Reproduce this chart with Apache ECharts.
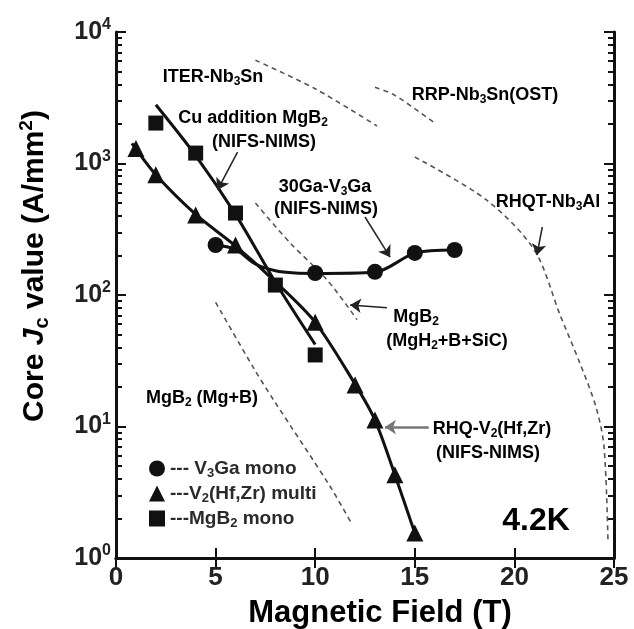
<!DOCTYPE html>
<html>
<head>
<meta charset="utf-8">
<script src="https://cdn.jsdelivr.net/npm/echarts@6/dist/echarts.min.js"></script>
<style>
  html, body { margin: 0; background: #fff; }
  #chart { width: 634px; height: 629px; }
</style>
</head>
<body>
<div id="chart"></div>
<script>
// measured points, [field (T), core Jc (A/mm2)]
const v3gaMono = [[5, 240], [10, 147], [13, 150], [15, 209], [17, 220]]
const v3gaFit = [[5, 240], [6, 222], [7, 172], [8, 153], [9, 147], [10, 146], [13, 149], [15, 208], [17, 220]]
const v2Multi = [[1, 1300], [2, 820], [4, 406], [6, 240], [10, 62], [12, 20.7], [13, 11.2], [14, 4.3], [15, 1.55]]
const v2Fit = [[0.8, 1420], [2, 820], [4, 410], [6, 236], [8, 126], [10, 62], [12, 21], [13, 11.2], [14, 4.3], [15, 1.55]]
const mgb2Mono = [[2, 2030], [4, 1200], [6, 420], [8, 119], [10, 35]]
const mgb2Fit = [[2, 2800], [4, 1150], [6, 410], [8, 125], [10, 42]]

// reference curves (dashed)
const iterNb3Sn = [[7, 6100], [10, 3700], [13.1, 1930]]
const rrpNb3Sn = [[13, 3800], [14, 3300], [16, 2030]]
const rhqtNb3Al = [[15, 1120], [18.6, 528], [21, 220], [22.3, 70], [23.3, 30], [24.1, 14], [24.5, 7], [24.7, 1.3]]
const mgb2SiC = [[7, 500], [8.75, 248], [10.6, 130], [12.1, 65]]
const mgb2MgB = [[5, 88], [6.9, 28], [7.9, 16], [10.75, 3.5], [11.85, 1.8]]

// annotation arrows [from, to]
const arrows = [
  [[6.1, 1220], [5.1, 630]],
  [[12.5, 392], [13.76, 194]],
  [[21.4, 329], [21.13, 201]],
  [[13.6, 80], [11.75, 84]],
  [[15.7, 9.9], [13.5, 9.9]]
]

const yDecades = [0, 1, 2, 3, 4]
const supDigits = ['0', '1', '2', '3', '4']

const FONT = '"Liberation Sans", Arial, sans-serif'
const INK = '#2a2a2a'

// minor tick positions in decade units (2..9 in every decade)
const minorTicks = []
yDecades.slice( 0, -1 ).forEach( d => {
  for ( let k = 2; k < 10; k++ ) minorTicks.push( d + Math.log10( k ) )
} )

const rich = ( size, color ) => ( {
  n : { fontSize : size, fontWeight : 'bold', fontFamily : FONT, color : color || INK },
  i : { fontSize : size, fontWeight : 'bold', fontStyle : 'italic', fontFamily : FONT, color : color || INK },
  s : { fontSize : Math.round( size * 0.68 ), fontWeight : 'bold', fontFamily : FONT, color : color || INK, padding : [Math.round( size * 0.5 ), 0, 0, 0] },
  p : { fontSize : Math.round( size * 0.62 ), fontWeight : 'bold', fontFamily : FONT, color : color || INK, padding : [0, 0, Math.round( size * 0.55 ), 0] }
} )

// text annotations: rich text, centre x, centre y, font size
const notes = [
  ['{n|ITER-Nb}{s|3}{n|Sn}', 213, 77, 18],
  ['{n|Cu addition MgB}{s|2}', 253, 118, 18],
  ['{n|(NIFS-NIMS)}', 264, 142, 18],
  ['{n|RRP-Nb}{s|3}{n|Sn(OST)}', 485, 95, 18],
  ['{n|30Ga-V}{s|3}{n|Ga}', 325, 187, 18],
  ['{n|(NIFS-NIMS)}', 326, 209, 18],
  ['{n|RHQT-Nb}{s|3}{n|Al}', 548, 202, 18],
  ['{n|MgB}{s|2}', 416, 317, 18],
  ['{n|(MgH}{s|2}{n|+B+SiC)}', 447, 341, 18],
  ['{n|MgB}{s|2}{n| (Mg+B)}', 202, 398, 18],
  ['{n|RHQ-V}{s|2}{n|(Hf,Zr)}', 492, 429, 18],
  ['{n|(NIFS-NIMS)}', 488, 453, 18],
  ['{n|4.2K}', 536, 521, 32],
  ['{n|Magnetic Field (T)}', 380, 613, 31]
]

const legendText = {
  'V3Ga mono' : '{n|--- V}{s|3}{n|Ga mono}',
  'V2(Hf,Zr) multi' : '{n|---V}{s|2}{n|(Hf,Zr) multi}',
  'MgB2 mono' : '{n|---MgB}{s|2}{n| mono}'
}

const fitLine = ( name, data ) => ( {
  name, type : 'line', data, smooth : 0.3, symbol : 'none', silent : true,
  lineStyle : { color : '#111', width : 3 }
} )
const marks = ( name, data, symbol, size ) => ( {
  name, type : 'scatter', data, symbol, symbolSize : size, z : 4,
  itemStyle : { color : '#111', opacity : 1 }
} )
const refLine = ( name, data ) => ( {
  name, type : 'line', data, smooth : 0.3, symbol : 'none', silent : true,
  lineStyle : { color : '#555', width : 1.6, type : [5, 4] }
} )

const tickStyle = { color : '#111', width : 2 }

// main log axis (left) and its mirror (right)
const logAxis = ( position, labels ) => ( {
  type : 'log', logBase : 10, min : 1, max : 10000, position,
  axisLine : { show : true, lineStyle : { color : '#111', width : 3 } },
  axisTick : { show : true, inside : true, length : 10, lineStyle : tickStyle },
  axisLabel : labels ? {
    margin : 5,
    formatter : v => '{n|10}{p|' + supDigits[Math.round( Math.log10( v ) )] + '}',
    rich : rich( 25, '#222' )
  } : { show : false },
  splitLine : { show : false }
} )
// decoration-only axis in decade units that carries the minor ticks
const minorAxis = position => ( {
  type : 'value', min : 0, max : 4, position,
  axisLine : { show : false },
  axisTick : { show : true, inside : true, length : 6, customValues : minorTicks, lineStyle : tickStyle },
  axisLabel : { show : false },
  splitLine : { show : false }
} )

const chart = echarts.init( document.getElementById( 'chart' ) )

chart.setOption( {
  animation : false,
  backgroundColor : '#fff',
  textStyle : { fontFamily : FONT },
  grid : { left : 116, right : 20, top : 32, bottom : 71 },
  legend : {
    orient : 'vertical',
    left : 144,
    top : 454,
    itemWidth : 16,
    itemHeight : 16,
    itemGap : 4,
    data : Object.keys( legendText ),
    formatter : name => legendText[name],
    textStyle : { rich : rich( 19 ) }
  },
  xAxis : [
    {
      type : 'value', min : 0, max : 25, interval : 5, position : 'bottom',
      axisLine : { lineStyle : { color : '#111', width : 3 } },
      axisTick : { inside : true, length : 10, lineStyle : tickStyle },
      axisLabel : { margin : 7, fontSize : 26, fontWeight : 'bold', color : '#222', fontFamily : FONT },
      splitLine : { show : false }
    },
    {
      type : 'value', min : 0, max : 25, interval : 5, position : 'top',
      axisLine : { lineStyle : { color : '#111', width : 3 } },
      axisTick : { inside : true, length : 10, lineStyle : tickStyle },
      axisLabel : { show : false },
      splitLine : { show : false }
    }
  ],
  yAxis : [
    logAxis( 'left', true ),
    minorAxis( 'left' ),
    logAxis( 'right', false ),
    minorAxis( 'right' )
  ],
  graphic : notes.map( ( [text, x, y, size] ) => ( {
    type : 'text', x, y, silent : true,
    style : { text, rich : rich( size ), align : 'center', verticalAlign : 'middle', textAlign : 'center', textVerticalAlign : 'middle' }
  } ) ).concat( [{
    type : 'text', x : 35, y : 266, rotation : Math.PI / 2, silent : true,
    style : {
      text : '{n|Core }{i|J}{s|c}{n| value (A/mm}{p|2}{n|)}',
      rich : rich( 30 ),
      align : 'center', verticalAlign : 'middle', textAlign : 'center', textVerticalAlign : 'middle'
    }
  }] ),
  series : [
    refLine( 'ITER-Nb3Sn', iterNb3Sn ),
    refLine( 'RRP-Nb3Sn(OST)', rrpNb3Sn ),
    refLine( 'RHQT-Nb3Al', rhqtNb3Al ),
    refLine( 'MgB2 (MgH2+B+SiC)', mgb2SiC ),
    refLine( 'MgB2 (Mg+B)', mgb2MgB ),
    fitLine( 'V3Ga fit', v3gaFit ),
    fitLine( 'V2 fit', v2Fit ),
    fitLine( 'MgB2 fit', mgb2Fit ),
    marks( 'V3Ga mono', v3gaMono, 'circle', 16 ),
    marks( 'V2(Hf,Zr) multi', v2Multi, 'triangle', 17 ),
    marks( 'MgB2 mono', mgb2Mono, 'rect', 15 ),
    {
      name : 'arrows', type : 'line', data : [], silent : true,
      markLine : {
        silent : true,
        symbol : ['none', 'arrow'],
        symbolSize : 11,
        label : { show : false },
        lineStyle : { color : '#222', width : 1.5, type : 'solid' },
        data : arrows.map( ( [a, b], i ) => [
          { coord : a, lineStyle : i === 4 ? { color : '#777', width : 2.5 } : undefined },
          { coord : b }
        ] )
      }
    }
  ]
} )
</script>
</body>
</html>
